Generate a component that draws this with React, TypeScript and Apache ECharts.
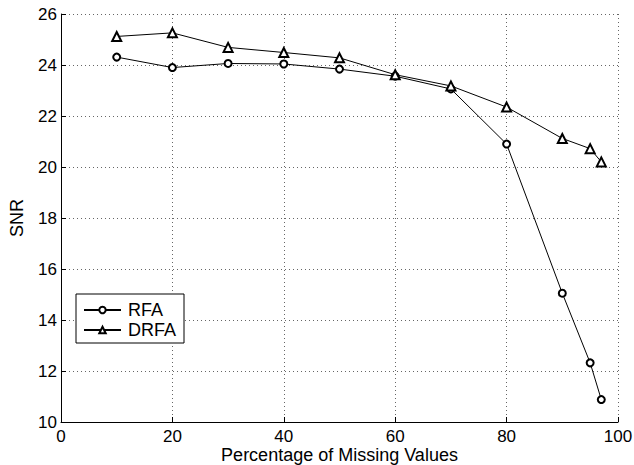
import React, { useEffect, useRef } from "react";
import * as echarts from "echarts";

const xValues = [10, 20, 30, 40, 50, 60, 70, 80, 90, 95, 97];
const rfaValues = [24.31, 23.9, 24.06, 24.04, 23.84, 23.56, 23.06, 20.9, 15.05, 12.32, 10.88];
const drfaValues = [25.12, 25.26, 24.69, 24.49, 24.28, 23.62, 23.18, 22.35, 21.12, 20.72, 20.2];
const seriesNames = ["RFA", "DRFA"];

const FONT = "Liberation Sans, Arial, Helvetica, sans-serif";

export default function App() {
  const ref = useRef<HTMLDivElement>(null);
  useEffect(() => {
    if (!ref.current) return;
    const chart = echarts.init(ref.current, undefined, { renderer: "svg" });
    const mk = (vals: number[]) => xValues.map((x, i) => [x, vals[i]]);
    chart.setOption({
      animation: false,
      backgroundColor: "#fff",
      grid: { left: 61, right: 16, top: 14, bottom: 43, outerBoundsMode: "none", containLabel: false },
      legend: {
        left: 76,
        top: 294,
        orient: "vertical",
        data: seriesNames,
        itemWidth: 37,
        itemHeight: 8,
        itemGap: 0,
        padding: [6, 8, 3, 7],
        borderColor: "#000",
        borderWidth: 1,
        borderRadius: 0,
        backgroundColor: "#fff",
        textStyle: { fontFamily: FONT, fontSize: 18, lineHeight: 20, color: "#000", padding: [0, 0, 0, 2] },
      },
      xAxis: {
        type: "value",
        min: 0,
        max: 100,
        interval: 20,
        name: "Percentage of Missing Values",
        nameLocation: "middle",
        nameGap: 23,
        nameMoveOverlap: false,
        nameTextStyle: { fontFamily: FONT, fontSize: 18, lineHeight: 20, color: "#000" },
        axisLine: { show: true, lineStyle: { color: "#000", width: 1 } },
        axisTick: { show: true, inside: true, length: 5, lineStyle: { color: "#000" } },
        axisLabel: { fontFamily: FONT, fontSize: 17, color: "#000", margin: 6 },
        splitLine: { show: true, lineStyle: { color: "#666", type: [1, 3], width: 1 } },
      },
      yAxis: {
        type: "value",
        min: 10,
        max: 26,
        interval: 2,
        name: "SNR",
        nameLocation: "middle",
        nameGap: 35,
        nameMoveOverlap: false,
        nameTextStyle: { fontFamily: FONT, fontSize: 18, color: "#000" },
        axisLine: { show: true, lineStyle: { color: "#000", width: 1 } },
        axisTick: { show: true, inside: true, length: 5, lineStyle: { color: "#000" } },
        axisLabel: { fontFamily: FONT, fontSize: 17, color: "#000", margin: 4 },
        splitLine: { show: true, lineStyle: { color: "#666", type: [1, 3], width: 1 } },
      },
      series: [
        {
          name: seriesNames[0],
          type: "line",
          data: mk(rfaValues),
          symbol: "emptyCircle",
          symbolSize: 7,
          lineStyle: { color: "#000", width: 1 },
          itemStyle: { color: "#000", borderColor: "#000", borderWidth: 1 },
        },
        {
          name: seriesNames[1],
          type: "line",
          data: mk(drfaValues),
          symbol: "emptyTriangle",
          symbolSize: 9,
          lineStyle: { color: "#000", width: 1 },
          itemStyle: { color: "#000", borderColor: "#000", borderWidth: 1 },
        },
      ],
    });
    return () => chart.dispose();
  }, []);
  return <div ref={ref} style={{ width: 634, height: 465, position: "absolute", left: 0, top: 0 }} />;
}
